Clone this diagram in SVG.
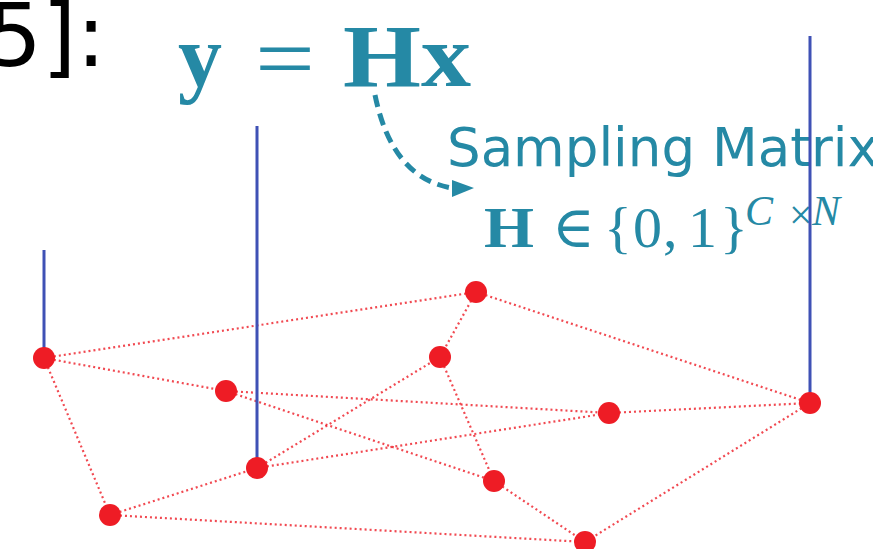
<svg xmlns="http://www.w3.org/2000/svg" width="873" height="549" viewBox="0 0 873 549">
<style>
.edge{stroke:#ee1c25;stroke-width:2.2;stroke-dasharray:2 3;opacity:0.8;fill:none}
.pole{stroke:#3f51b5;stroke-width:3}
.node{fill:#ee1c25}
.teal{fill:#2589a5}
.math{font-family:"Liberation Serif","DejaVu Serif",serif}
</style>
<text x="106" y="66" text-anchor="end" font-family="DejaVu Sans,sans-serif" font-size="88" fill="#000">5]:</text>
<text x="178" y="86" class="teal math" font-size="88" font-weight="bold" textLength="44" lengthAdjust="spacingAndGlyphs">y</text>
<text x="255" y="88" class="teal math" font-size="88" textLength="60" lengthAdjust="spacingAndGlyphs">=</text>
<text x="343" y="86" class="teal math" font-size="88" font-weight="bold" textLength="128" lengthAdjust="spacingAndGlyphs">Hx</text>
<text x="447" y="166" class="teal" font-family="DejaVu Sans,sans-serif" font-size="53">Sampling Matrix</text>
<g class="teal math">
<text x="484" y="247" font-size="58" font-weight="bold" textLength="50" lengthAdjust="spacingAndGlyphs">H</text>
<text x="552" y="247" font-size="58">∈</text>
<text x="604" y="247" font-size="58">{</text>
<text x="633" y="247" font-size="58">0</text>
<text x="663" y="247" font-size="58">,</text>
<text x="688" y="247" font-size="58">1</text>
<text x="720" y="247" font-size="58">}</text>
<text x="745" y="225" font-size="42" font-style="italic">C</text>
<text x="789" y="229" font-size="42">×</text>
<text x="812" y="225" font-size="42" font-style="italic">N</text>
</g>
<path d="M375,95 Q392,178 452,188" fill="none" stroke="#2589a5" stroke-width="5" stroke-dasharray="12 7"/>
<path d="M452,180 L474,188 L452,197 Z" fill="#2589a5"/>
<g id="connectors">
<line class="edge" x1="44" y1="358" x2="476" y2="292"/>
<line class="edge" x1="44" y1="358" x2="226" y2="391"/>
<line class="edge" x1="44" y1="358" x2="110" y2="515"/>
<line class="edge" x1="226" y1="391" x2="609" y2="413"/>
<line class="edge" x1="226" y1="391" x2="494" y2="481"/>
<line class="edge" x1="110" y1="515" x2="257" y2="468"/>
<line class="edge" x1="110" y1="515" x2="585" y2="542"/>
<line class="edge" x1="257" y1="468" x2="440" y2="357"/>
<line class="edge" x1="257" y1="468" x2="609" y2="413"/>
<line class="edge" x1="476" y1="292" x2="440" y2="357"/>
<line class="edge" x1="476" y1="292" x2="810" y2="403"/>
<line class="edge" x1="440" y1="357" x2="494" y2="481"/>
<line class="edge" x1="609" y1="413" x2="810" y2="403"/>
<line class="edge" x1="810" y1="403" x2="585" y2="542"/>
<line class="edge" x1="494" y1="481" x2="585" y2="542"/>
<line class="pole" x1="44" y1="250" x2="44" y2="358"/>
<line class="pole" x1="257" y1="126" x2="257" y2="468"/>
<line class="pole" x1="810" y1="36" x2="810" y2="403"/>
</g>
<g id="nA"><circle class="node" cx="44" cy="358" r="11"/></g>
<g id="nB"><circle class="node" cx="226" cy="391" r="11"/></g>
<g id="nC"><circle class="node" cx="257" cy="468" r="11"/></g>
<g id="nD"><circle class="node" cx="110" cy="515" r="11"/></g>
<g id="nE"><circle class="node" cx="476" cy="292" r="11"/></g>
<g id="nF"><circle class="node" cx="440" cy="357" r="11"/></g>
<g id="nG"><circle class="node" cx="609" cy="413" r="11"/></g>
<g id="nH"><circle class="node" cx="810" cy="403" r="11"/></g>
<g id="nI"><circle class="node" cx="494" cy="481" r="11"/></g>
<g id="nJ"><circle class="node" cx="585" cy="542" r="11"/></g>
</svg>
